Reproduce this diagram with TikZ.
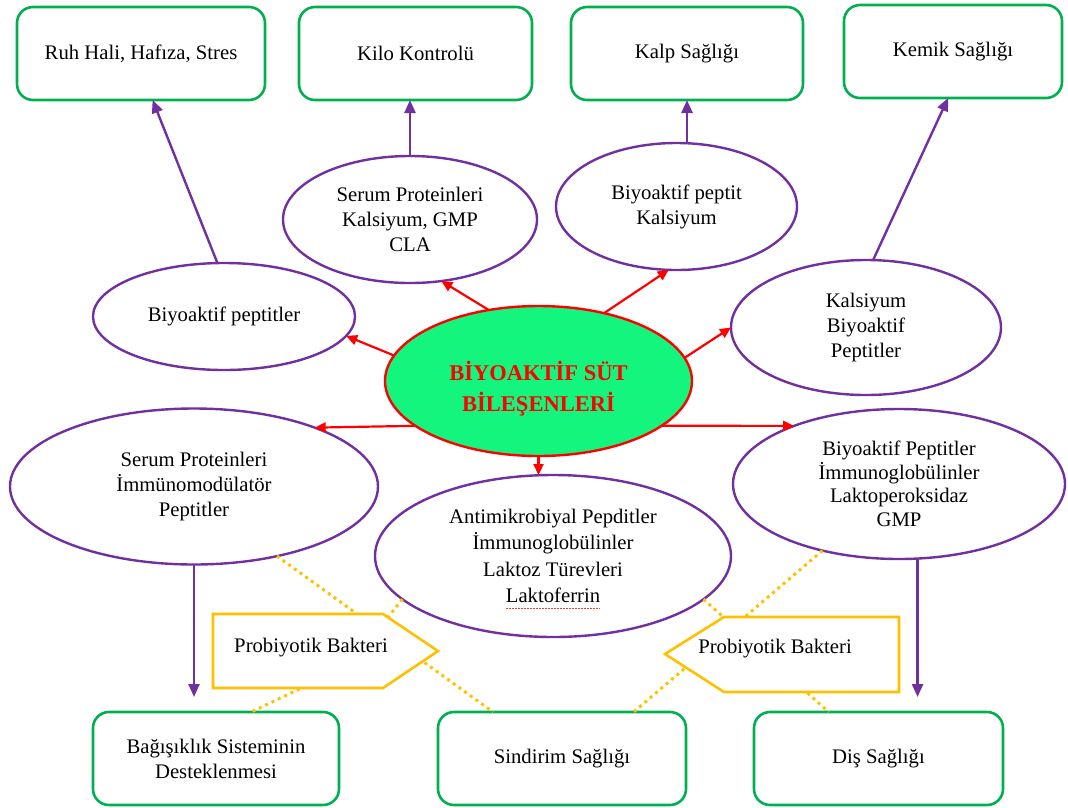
\documentclass[tikz,border=0pt]{standalone}
\usepackage{fontspec}
\setmainfont{Liberation Serif}
\usetikzlibrary{shapes.geometric,arrows.meta,calc}
\definecolor{bgreen}{RGB}{0,176,80}
\definecolor{bpurple}{RGB}{112,48,160}
\definecolor{bgold}{RGB}{255,192,0}
\definecolor{bfill}{RGB}{20,245,125}
\definecolor{spell}{RGB}{240,60,60}
\begin{document}
\begin{tikzpicture}[x=1pt,y=-1pt,
 font=\fontsize{20.7}{25}\selectfont,
 box/.style={draw=bgreen, line width=2.6pt, rounded corners=16pt, minimum width=#1, minimum height=93pt, inner sep=0pt, outer sep=0pt, align=center},
 ell/.style args={#1/#2}{draw=bpurple, line width=2.4pt, ellipse, minimum width=#1, minimum height=#2, inner sep=0pt, outer sep=0pt, align=center, fill=white},
 redarr/.style={draw=red, line width=2.2pt, -{Triangle[length=11pt,width=10pt]}},
 purarr/.style={draw=bpurple, line width=2.4pt, -{Triangle[length=13pt,width=11pt]}},
 dots/.style={draw=bgold, line width=3pt, dash pattern=on 3pt off 4pt},
 pent/.style={draw=bgold, line width=2.6pt, fill=white, line join=miter},
 ctext/.style={font=\fontsize{22.5}{31}\selectfont\bfseries, text=red, align=center}
]
\useasboundingbox (0,0) rectangle (1068,807);

% outcome boxes
\node[box=248pt] (R1) at (141,53.5) {Ruh Hali, Hafıza, Stres};
\node[box=233pt] (R2) at (415.5,53.5) {Kilo Kontrolü};
\node[box=232pt] (R3) at (687,53.5) {Kalp Sağlığı};
\node[box=218pt] (R4) at (953,51.5) {Kemik Sağlığı};
\node[box=246pt] (B1) at (216,758.5) {Bağışıklık Sisteminin\\Desteklenmesi};
\node[box=248pt] (B2) at (562,758.5) {Sindirim Sağlığı};
\node[box=249pt] (B3) at (878.5,758.5) {Diş Sağlığı};

% component ellipses
\node[ell=262pt/107pt] (A) at (224,316.5) {Biyoaktif peptitler};
\node[ell=254pt/127pt] (B) at (410,219.5) {Serum Proteinleri\\Kalsiyum, GMP\\CLA};
\node[ell=241pt/127pt] (C) at (676.5,206.5) {Biyoaktif peptit\\Kalsiyum};
\node[ell=270pt/135pt] (D) at (866,327.5) {Kalsiyum\\Biyoaktif\\Peptitler};
\node[ell=368pt/156pt] (E) at (194,486.5) {Serum Proteinleri\\İmmünomodülatör\\Peptitler};
\node[ell=356pt/162pt, font=\fontsize{20.7}{26.5}\selectfont] (F) at (553,556) {Antimikrobiyal Pepditler\\İmmunoglobülinler\\Laktoz Türevleri\\Laktoferrin};
\node[ell=332pt/150pt, font=\fontsize{20.7}{23.5}\selectfont] (G) at (899,484) {Biyoaktif Peptitler\\İmmunoglobülinler\\Laktoperoksidaz\\GMP};

% centre
\node[ell=307pt/150pt, draw=red, fill=bfill] (M) at (538.5,381) {};
\node[ctext] (MT) at (538.5,389) {BİYOAKTİF SÜT\\BİLEŞENLERİ};

% red arrows
\draw[redarr] (M.170.7) -- (A.-9.1);
\draw[redarr] (M.125.8) -- (B.-63.2);
\draw[redarr] (M.46.1) -- (C.-97.4);
\draw[redarr] (M.9.5) -- (D.180);
\draw[redarr] (M.200.8) -- (E.26.6);
\draw[redarr] (M.-20.8) -- (G.151);
\draw[redarr] (M.south) -- (M.south |- F.north);

% purple arrows
\draw[purarr] (A.97) -- (R1.-76.7);
\draw[purarr] (B.north) -- (B.north |- R2.south);
\draw[purarr] (R3.south |- C.north) -- (R3.south);
\draw[purarr] (D.84) -- (R4.-96);
\draw[purarr, shorten >=15pt] (E.south) -- (E.south |- B1.north);
\draw[purarr, shorten >=15pt] (G.-76.4) -- (G.-76.4 |- B3.north);

% dotted links
\coordinate (k1) at (350,665);
\draw[dots] (E.-40.5) -- (B2.146.4);
\draw[dots] (F.196.7) -- (k1) -- (B1.53);
\draw[dots] (G.221) -- (B2.33.6);
\draw[dots] (F.-16.5) -- (B3.137);

% probiotic arrows
\draw[pent] (213,614) -- (383,614) -- (438,651) -- (383,688) -- (213,688) -- cycle;
\node (P1) at (311,648) {Probiyotik Bakteri};
\draw[pent] (899,617) -- (724,617) -- (665,654) -- (724,692) -- (899,692) -- cycle;
\node (P2) at (775,649) {Probiyotik Bakteri};

% spell-check mark under Laktoferrin
\draw[spell, line width=0.9pt, dash pattern=on 1.5pt off 1.5pt] (506,608) -- (600,608);
\end{tikzpicture}
\end{document}
